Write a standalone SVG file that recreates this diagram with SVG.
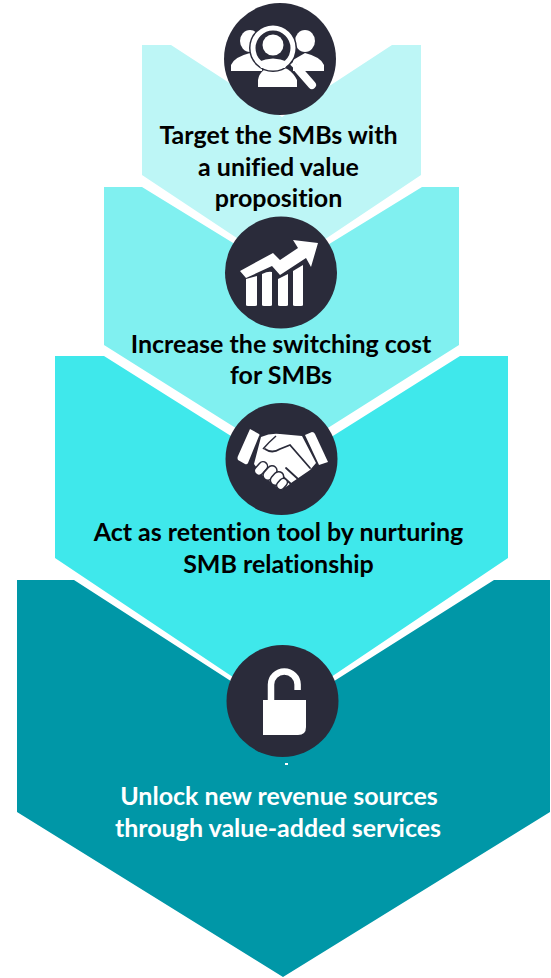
<svg xmlns="http://www.w3.org/2000/svg" width="551" height="978" viewBox="0 0 551 978">
<style>
.dark{fill:#2a2b3a}
.ic{fill:#fff}
.t{font-family:"Lato","Liberation Sans",sans-serif;font-weight:700;font-size:25px;text-anchor:middle;fill:#000;font-variant-ligatures:none}
.w{fill:#fff}
</style>
<rect width="551" height="978" fill="#fff"/>
<g id="step1">
<path d="M142 45H171L282 117L392 45H421V175L282 268L142 175Z" fill="#bdf6f6"/>
</g>
<g id="step2">
<path d="M104 187H142L282 273L422 187H459V345L282 457L104 345Z" fill="#80f0f0"/>
</g>
<g id="step3">
<path d="M55 356H104L282 468L460 356H508V558L282 710L55 558Z" fill="#3fe8eb"/>
</g>
<g id="step4">
<path d="M17 580H74L282 714L494 580H550V812L283 977L17 812Z" fill="#0097a7"/>
</g>
<g id="step1-content">
<circle class="dark" cx="280" cy="59" r="56"/>
<g class="ic">
<ellipse cx="250" cy="41" rx="10" ry="11"/><ellipse cx="305" cy="41" rx="10" ry="11"/>
<path d="M231 71V65Q234 57 250 53L262 60V71Z"/><path d="M324 71V65Q321 57 305 53L293 60V71Z"/>
<path d="M258 87V80Q260 68 275 66Q290 66 297 80V87Z"/>
</g>
<circle cx="273" cy="48" r="24" class="dark"/>
<circle cx="273" cy="45" r="10.500" class="ic"/>
<path class="ic" d="M258 62Q273 55 288 62L285 68H261Z"/>
<circle cx="273" cy="48" r="20" fill="none" stroke="#fff" stroke-width="5"/>
<path d="M295 65L312 85" fill="none" stroke="#2a2b3a" stroke-width="3" stroke-linecap="round"/>
<path d="M292 63L296 67" fill="none" stroke="#fff" stroke-width="5"/>
<path d="M298 69L312 85" fill="none" stroke="#fff" stroke-width="8" stroke-linecap="round"/>
</g>
<g id="step2-content">
<circle class="dark" cx="281" cy="272.500" r="56"/>
<path class="ic" d="M240 271L273 253L280 260L298 248L293 240L318 243L311 267L306 258L280 275L272 266L246 278Z"/>
<g class="ic">
<path d="M246 279L257 276V305Q257 306 255 306H248Q246 306 246 305Z"/>
<path d="M262 274Q268 271 272 272V305Q272 306 270 306H264Q262 306 262 305Z"/>
<path d="M278 279L288 274V305Q288 306 286 306H280Q278 306 278 305Z"/>
<path d="M293 271L303 265V305Q303 306 301 306H295Q293 306 293 305Z"/>
</g>
</g>
<g id="step3-content">
<circle class="dark" cx="281.500" cy="459" r="56"/>
<g class="ic">
<path d="M250 429L259 434Q260 435 259 436L248 463Q247 465 245 464L238 460Q237 458 238 456Z"/>
<path d="M305 435L312 432Q314 432 315 434L328 462L319 465Z"/>
<path d="M261 437Q270 433 280 434L302 436L316 463L310 470L291 483Q284 490 278 488L262 475L254 464Z"/>
</g>
<path d="M263 449Q268 443 276 436" fill="none" stroke="#2a2b3a" stroke-width="1.500"/>
<path d="M265 449Q272 454 280 449L290 445L310 468M286 468L298 479M280 474L291 484" fill="none" stroke="#2a2b3a" stroke-width="1.800" stroke-linecap="round"/>
<g class="ic" stroke="#2a2b3a" stroke-width="1.500">
<rect x="256.500" y="461" width="9" height="15" rx="4.500" transform="rotate(42 261 468.500)"/>
<rect x="265" y="465" width="10" height="16" rx="5" transform="rotate(42 270 473)"/>
<rect x="272" y="471" width="10" height="15" rx="5" transform="rotate(42 277 478.500)"/>
<rect x="278" y="478" width="8" height="12" rx="4" transform="rotate(42 282 484)"/>
</g>
</g>
<g id="step4-content">
<circle class="dark" cx="282.500" cy="701" r="56"/>
<path d="M271 700V684.500A13.300 13 0 0 1 297.600 684.500V690" fill="none" stroke="#fff" stroke-width="6.500"/>
<path class="ic" d="M263 700H306V727Q306 735 298 735H263Z"/>
<rect class="w" x="285" y="763" width="3" height="2"/>
</g>
<g id="labels">
<text class="t" x="278.500" y="144">Target the SMBs with</text>
<text class="t" x="278.500" y="175.500">a unified value</text>
<text class="t" x="278.500" y="207">proposition</text>
<text class="t" x="281" y="352.500">Increase the switching cost</text>
<text class="t" x="281" y="384">for SMBs</text>
<text class="t" x="278.500" y="540.500">Act as retention tool by nurturing</text>
<text class="t" x="278.500" y="572.500">SMB relationship</text>
<text class="t w" x="279" y="804.500">Unlock new revenue sources</text>
<text class="t w" x="278" y="836.500">through value-added services</text>
</g>
</svg>
